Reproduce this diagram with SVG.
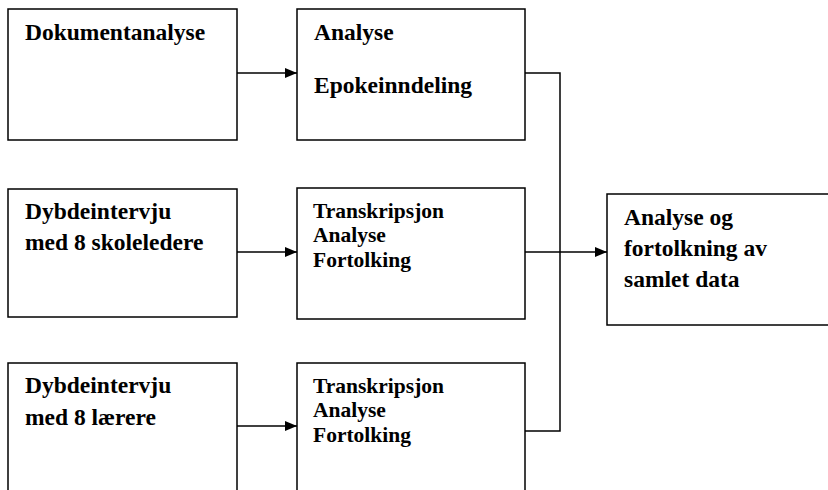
<svg xmlns="http://www.w3.org/2000/svg" width="828" height="490" viewBox="0 0 828 490">
<defs>
<style>
.box{fill:#fff;stroke:#000;stroke-width:1.5}
.t{font-family:"Liberation Serif","Times New Roman",serif;font-weight:bold;font-size:23.5px;fill:#000}
.s{font-family:"Liberation Serif","Times New Roman",serif;font-weight:bold;font-size:21.5px;fill:#000}
.c{fill:none;stroke:#000;stroke-width:1.5}
</style>
<marker id="ah" markerWidth="12" markerHeight="10" refX="12" refY="5" orient="auto" markerUnits="userSpaceOnUse">
<path d="M0,0 L12,5 L0,10 Z" fill="#000"/>
</marker>
</defs>
<rect width="828" height="490" fill="#fff"/>
<g id="n1"><rect class="box" x="8" y="9" width="229" height="131"/><text class="t" x="25" y="40">Dokumentanalyse</text></g>
<g id="n2"><rect class="box" x="297" y="9" width="228" height="131"/><text class="t" x="314" y="40">Analyse</text><text class="t" x="314" y="93">Epokeinndeling</text></g>
<g id="n3"><rect class="box" x="8" y="189" width="229" height="128"/><text class="t" x="25" y="219">Dybdeintervju</text><text class="t" x="25" y="250">med 8 skoleledere</text></g>
<g id="n4"><rect class="box" x="297" y="188" width="228" height="131"/><text class="s" x="313" y="218">Transkripsjon</text><text class="s" x="313" y="242">Analyse</text><text class="s" x="313" y="267">Fortolking</text></g>
<g id="n5"><rect class="box" x="8" y="363" width="229" height="140"/><text class="t" x="25" y="393">Dybdeintervju</text><text class="t" x="25" y="425">med 8 lærere</text></g>
<g id="n6"><rect class="box" x="297" y="363" width="228" height="140"/><text class="s" x="313" y="393">Transkripsjon</text><text class="s" x="313" y="417">Analyse</text><text class="s" x="313" y="442">Fortolking</text></g>
<g id="n7"><rect class="box" x="607" y="194" width="240" height="131"/><text class="t" x="624" y="225">Analyse og</text><text class="t" x="624" y="256">fortolkning av</text><text class="t" x="624" y="287">samlet data</text></g>
<g id="connectors">
<line class="c" x1="237" y1="73" x2="297" y2="73" marker-end="url(#ah)"/>
<line class="c" x1="237" y1="252" x2="297" y2="252" marker-end="url(#ah)"/>
<line class="c" x1="237" y1="426" x2="297" y2="426" marker-end="url(#ah)"/>
<polyline class="c" points="525,73 560,73 560,431 525,431"/>
<line class="c" x1="525" y1="252" x2="607" y2="252" marker-end="url(#ah)"/>
</g>
</svg>
